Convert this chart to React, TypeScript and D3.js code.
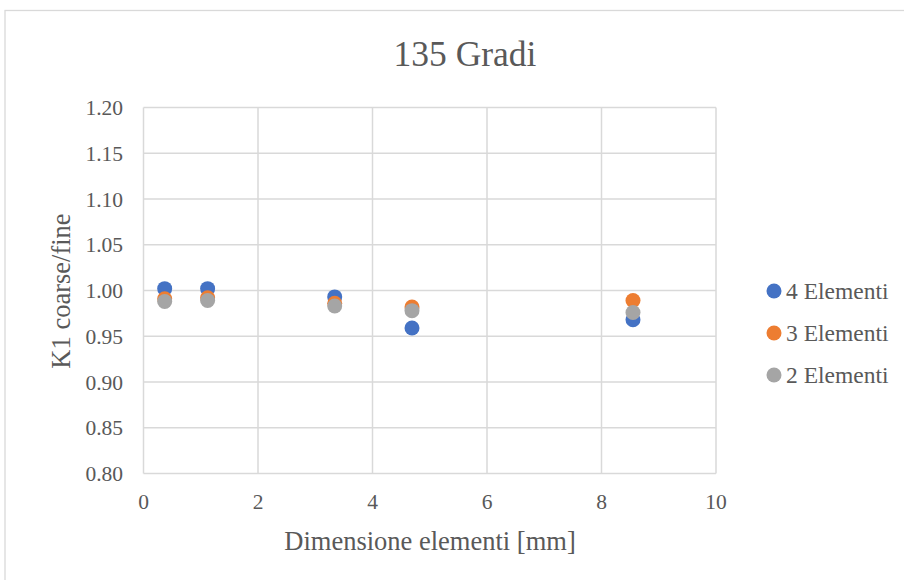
import React from "react";
import * as d3 from "d3";

const xValues = [0.37, 1.12, 3.34, 4.69, 8.55];
const seriesNames = ["4 Elementi", "3 Elementi", "2 Elementi"];
const series4 = [1.002, 1.002, 0.993, 0.959, 0.968];
const series3 = [0.991, 0.992, 0.986, 0.982, 0.989];
const series2 = [0.988, 0.989, 0.983, 0.978, 0.976];
const colors = ["#4472C4", "#ED7D31", "#A5A5A5"];
const xTicks = [0, 2, 4, 6, 8, 10];
const yTicks = [0.8, 0.85, 0.9, 0.95, 1.0, 1.05, 1.1, 1.15, 1.2];

const font = "\"Liberation Serif\", \"Times New Roman\", \"DejaVu Serif\", serif";
const txt = "#595959";

function T(props: any) {
  const { style, ...rest } = props;
  return <text {...rest} fill={txt} style={{ fontFamily: font, ...(style || {}) }} />;
}

export default function App() {
  const W = 904, H = 580;
  const x = d3.scaleLinear().domain([0, 10]).range([143.5, 716]);
  const y = d3.scaleLinear().domain([0.8, 1.2]).range([473.5, 107.5]);
  const all = [series4, series3, series2];
  return (
    <svg width={W} height={H} style={{ position: "absolute", left: 0, top: 0, background: "#fff", fontFamily: font }}>
      <rect x={5} y={10.5} width={W + 20} height={H + 20} fill="#fff" stroke="#d9d9d9" strokeWidth={1.3} />
      <T x={465} y={66} textAnchor="middle" fontSize={35.5}>135 Gradi</T>
      {yTicks.map((t) => (
        <g key={"y" + t}>
          <line x1={x(0)} x2={x(10)} y1={y(t)} y2={y(t)} stroke="#d9d9d9" strokeWidth={1.5} />
          <T x={123} y={y(t)} dy="0.35em" textAnchor="end" fontSize={21.5}>{t.toFixed(2)}</T>
        </g>
      ))}
      {xTicks.map((t) => (
        <g key={"x" + t}>
          <line x1={x(t)} x2={x(t)} y1={y(0.8)} y2={y(1.2)} stroke="#d9d9d9" strokeWidth={1.5} />
          <T x={x(t)} y={509} textAnchor="middle" fontSize={21.5}>{t}</T>
        </g>
      ))}
      <T x={430} y={550} textAnchor="middle" fontSize={26.5}>Dimensione elementi [mm]</T>
      <T transform={`translate(70,${291}) rotate(-90)`} textAnchor="middle" fontSize={26.5}>K1 coarse/fine</T>
      {all.map((s, si) => (
        <g key={"s" + si}>
          {s.map((v, i) => (
            <circle key={i} cx={x(xValues[i])} cy={y(v)} r={7.5} fill={colors[si]} />
          ))}
        </g>
      ))}
      {seriesNames.map((n, i) => (
        <g key={n} transform={`translate(774,${291 + i * 42})`}>
          <circle cx={0} cy={0} r={7.5} fill={colors[i]} />
          <T x={12} y={0} dy="0.35em" fontSize={23.5}>{n}</T>
        </g>
      ))}
    </svg>
  );
}
